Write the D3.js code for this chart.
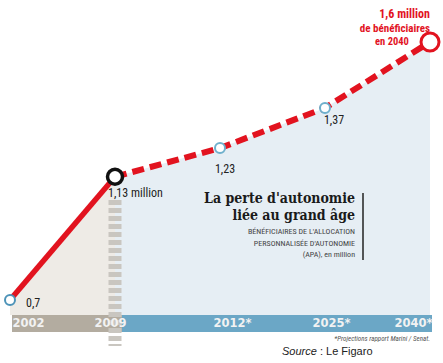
<!DOCTYPE html>
<html>
<head>
<meta charset="utf-8">
<script src="https://cdn.jsdelivr.net/npm/d3@7"></script>
<style>
  body { margin: 0; background: #fff; }
  svg { display: block; }
  .narrow { font-family: "Liberation Sans Narrow", "Roboto Condensed", "Arial Narrow", sans-serif; }
</style>
</head>
<body>
<svg width="443" height="363"></svg>
<script>
// data
var years = ["2002", "2009", "2012*", "2025*", "2040*"];
var values = [0.7, 1.13, 1.23, 1.37, 1.6];
var valueLabels = ["0,7", "1,13 million", "1,23", "1,37", ""];
var titleLines = ["La perte d'autonomie", "liée au grand âge"];
var subtitleLines = ["BÉNÉFICIAIRES DE L'ALLOCATION", "PERSONNALISÉE D'AUTONOMIE", "(APA), en million"];

var red = "#e2131f";
var svg = d3.select("svg");

var x = d3.scalePoint().domain(years).range([10, 430]);
var y = d3.scaleLinear().domain([0.7, 1.6]).range([300, 42]);

var data = years.map(function (d, i) {
  return { year: d, value: values[i], label: valueLabels[i] };
});
var past = data.slice(0, 2);
var future = data.slice(1);
var axisTop = 315;

// areas under the line
var area = d3.area()
  .x(function (d) { return x(d.year); })
  .y0(axisTop)
  .y1(function (d) { return y(d.value); });

svg.append("path").datum(future).attr("d", area).attr("fill", "#e6eef4");
svg.append("path").datum(past).attr("d", area).attr("fill", "#eeebe6");

// axis band
var split = x("2009") + 7;
svg.append("rect").attr("x", 12).attr("y", axisTop).attr("width", split - 12).attr("height", 17).attr("fill", "#b3aca0");
svg.append("rect").attr("x", split).attr("y", axisTop).attr("width", 432 - split).attr("height", 17).attr("fill", "#6ba7c6");

// dashed grey column at 2009
svg.append("line")
  .attr("x1", x("2009")).attr("x2", x("2009"))
  .attr("y1", 200).attr("y2", 346)
  .attr("stroke", "#c9c6c0").attr("stroke-width", 13)
  .attr("stroke-dasharray", "5,3");

var xAxis = svg.append("g")
  .attr("transform", "translate(0," + (axisTop + 1) + ")")
  .call(d3.axisBottom(x).tickSize(0).tickPadding(0));
xAxis.select(".domain").remove();
var nudge = [18, -5, 12, 6, -17];
xAxis.selectAll("text")
  .attr("dx", function (d, i) { return nudge[i]; })
  .attr("dy", "0.95em")
  .attr("fill", "#f2f2f2")
  .style("font-family", "'DejaVu Sans', sans-serif")
  .style("font-weight", "bold")
  .style("font-size", "11.5px");

// the line
var line = d3.line()
  .x(function (d) { return x(d.year); })
  .y(function (d) { return y(d.value); });

svg.append("path").datum(past).attr("d", line)
  .attr("fill", "none").attr("stroke", red).attr("stroke-width", 5.5);
svg.append("path").datum(future).attr("d", line)
  .attr("fill", "none").attr("stroke", red).attr("stroke-width", 6)
  .attr("stroke-dasharray", "12,6");

// markers
var markR = [5, 7.5, 5, 5, 9];
var markStroke = ["#4d93b8", "#111", "#6fb0cc", "#6fb0cc", red];
var markW = [2, 3.5, 2, 2, 3];
svg.selectAll(".mark").data(data).enter().append("circle")
  .attr("class", "mark")
  .attr("cx", function (d) { return x(d.year); })
  .attr("cy", function (d) { return y(d.value); })
  .attr("r", function (d, i) { return markR[i]; })
  .attr("fill", "#fff")
  .attr("stroke", function (d, i) { return markStroke[i]; })
  .attr("stroke-width", function (d, i) { return markW[i]; });

// value labels
var lblDx = [16, -7, 5, 9, 0];
var lblDy = [7, 20, 25, 16, 0];
var lblAnchor = ["start", "start", "middle", "middle", "middle"];
svg.selectAll(".vlabel").data(data).enter().append("text")
  .attr("class", "vlabel narrow")
  .attr("x", function (d, i) { return x(d.year) + lblDx[i]; })
  .attr("y", function (d, i) { return y(d.value) + lblDy[i]; })
  .attr("text-anchor", function (d, i) { return lblAnchor[i]; })
  .attr("font-size", 12)
  .attr("fill", "#222")
  .text(function (d) { return d.label; });

// 2040 callout
var callout = svg.append("g").attr("class", "narrow").attr("fill", red).attr("font-weight", "bold");
callout.append("text").attr("x", 430).attr("y", 18).attr("text-anchor", "end").attr("font-size", 12).text("1,6 million");
callout.append("text").attr("x", 430).attr("y", 32).attr("text-anchor", "end").attr("font-size", 11).text("de bénéficiaires");
callout.append("text").attr("x", 392).attr("y", 45).attr("text-anchor", "middle").attr("font-size", 10.5).text("en 2040");

// title block
var tb = svg.append("g");
tb.selectAll(".title").data(titleLines).enter().append("text")
  .attr("x", 355)
  .attr("y", function (d, i) { return 203 + i * 17; })
  .attr("text-anchor", "end")
  .style("font-family", "'DejaVu Serif Condensed', 'DejaVu Serif', serif")
  .style("font-stretch", "condensed")
  .style("font-weight", "bold")
  .style("font-size", "14px")
  .attr("fill", "#1a1a1a")
  .text(function (d) { return d; });
tb.selectAll(".sub").data(subtitleLines).enter().append("text")
  .attr("class", "narrow")
  .attr("x", 355)
  .attr("y", function (d, i) { return 234 + i * 11.5; })
  .attr("text-anchor", "end")
  .attr("font-size", 8)
  .attr("fill", "#444")
  .text(function (d) { return d; });
tb.append("line").attr("x1", 363).attr("x2", 363).attr("y1", 193).attr("y2", 260)
  .attr("stroke", "#222").attr("stroke-width", 1.5);

// notes
svg.append("text").attr("class", "narrow")
  .attr("x", 430).attr("y", 341).attr("text-anchor", "end")
  .attr("font-size", 7).attr("font-style", "italic").attr("fill", "#555")
  .text("*Projections rapport Marini / Senat.");
var src = svg.append("text")
  .attr("x", 282).attr("y", 355)
  .style("font-family", "'Liberation Sans', sans-serif")
  .attr("font-size", 11).attr("fill", "#222");
src.append("tspan").attr("font-style", "italic").text("Source");
src.append("tspan").text(" : Le Figaro");
</script>
</body>
</html>
